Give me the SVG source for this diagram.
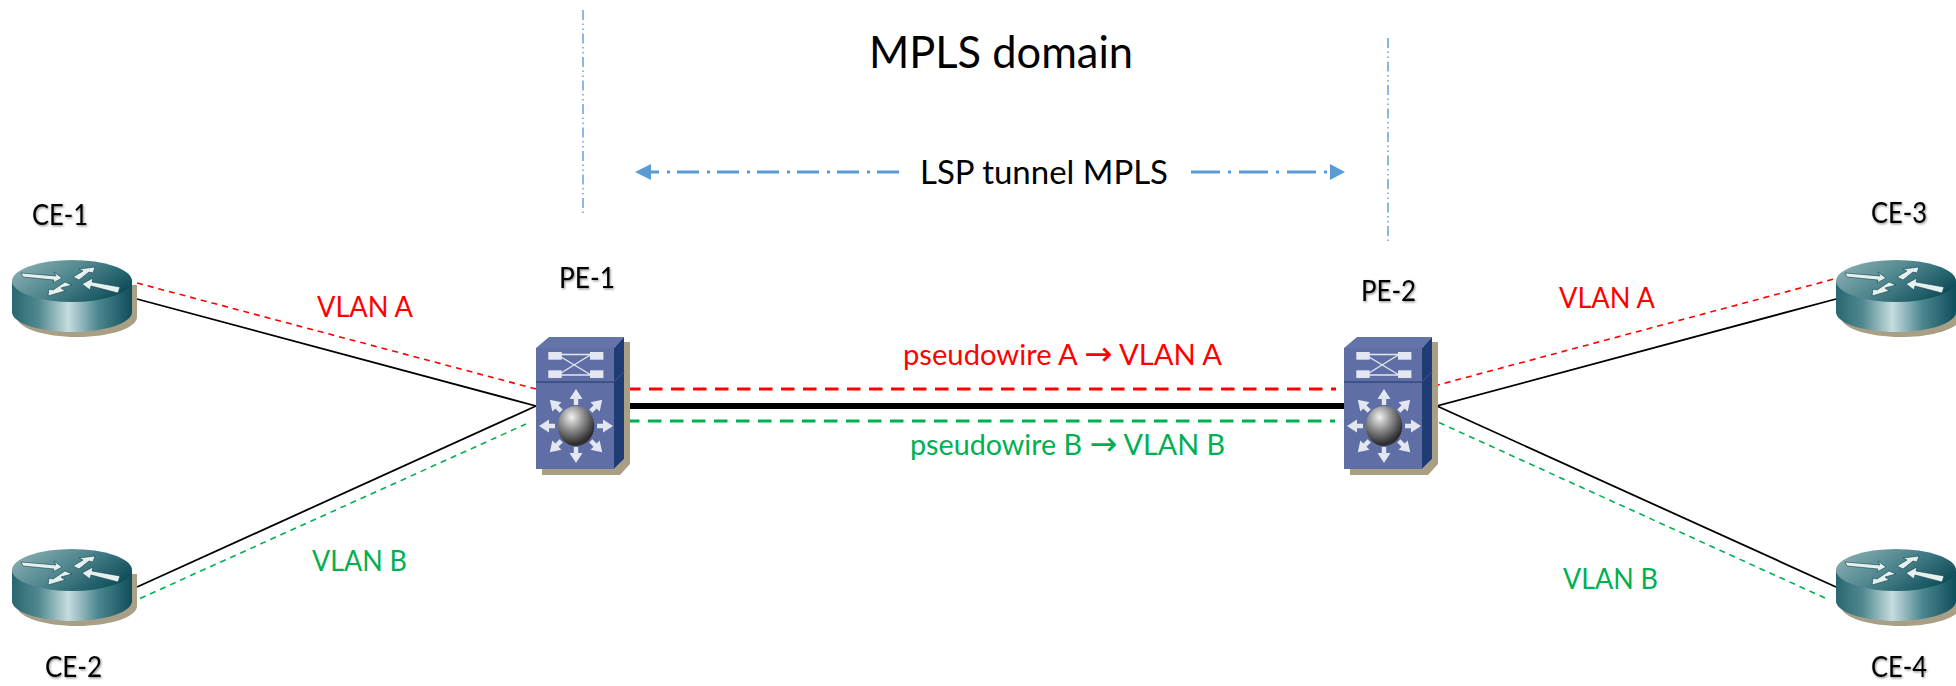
<svg xmlns="http://www.w3.org/2000/svg" xmlns:xlink="http://www.w3.org/1999/xlink" width="1956" height="686" viewBox="0 0 1956 686">
<style>
text{font-family:"Lato","Liberation Sans",sans-serif;}
.k{fill:#000}
.r{fill:#ff0000}
.g{fill:#00b050}
.s{font-size:28.5px}
.n{font-size:28.5px;filter:url(#ts)}
.ar{font-family:"DejaVu Sans",sans-serif;font-size:33px}
.bk{stroke:#000;stroke-width:1.8;fill:none}
.rd{stroke:#ff0000;stroke-width:1.6;stroke-dasharray:6 5;fill:none}
.gd{stroke:#00b050;stroke-width:1.6;stroke-dasharray:6 5;fill:none}
.rt{stroke:#ff0000;stroke-width:3;stroke-dasharray:13.5 8.5;fill:none}
.gt{stroke:#00b050;stroke-width:3;stroke-dasharray:13.5 8.5;fill:none}
.dom{stroke:#5b9bd5;stroke-width:1.4;stroke-dasharray:10 3.5 1.5 3.5 1.5 3.5;fill:none}
.ra{fill:#e6f1ef;stroke:#0c3f48;stroke-width:.6}
.sa{fill:#e3e7f1}
.sl{stroke:#e3e7f1;stroke-width:1.4;fill:none}
</style>
<defs>
<filter id="ts" x="-10%" y="-20%" width="125%" height="150%"><feDropShadow dx="1" dy="1.2" stdDeviation="1" flood-color="#000" flood-opacity=".45"/></filter>
<linearGradient id="rs" x1="0" x2="1" y1="0" y2="0"><stop offset="0" stop-color="#2a6670"/><stop offset=".22" stop-color="#508890"/><stop offset=".47" stop-color="#c6dcdf"/><stop offset=".72" stop-color="#4b868f"/><stop offset="1" stop-color="#0e4e5a"/></linearGradient>
<linearGradient id="rt" x1="0" x2="1" y1=".1" y2=".6"><stop offset="0" stop-color="#8fb2b6"/><stop offset=".5" stop-color="#4f868e"/><stop offset="1" stop-color="#0f4f5b"/></linearGradient>
<radialGradient id="ball" cx=".38" cy=".28" r=".8"><stop offset="0" stop-color="#f2f2f2"/><stop offset=".4" stop-color="#8f8f8f"/><stop offset=".85" stop-color="#2c2c2c"/><stop offset="1" stop-color="#3c3c3c"/></radialGradient>
<g id="router">
<path d="M5 25V57C5 68 32 77 65 77S125 68 125 57V25Z" fill="#a89f85"/>
<path d="M0 21V52C0 63 27 72 60 72S120 63 120 52V21Z" fill="url(#rs)"/>
<ellipse cx="60" cy="21" rx="60" ry="21" fill="url(#rt)"/>
<path class="ra" d="M9 13 L44 16 L42 12 L50 18 L41 23 L42 20 L11 17Z"/>
<path class="ra" d="M61 17 L71 11 L67 9 L83 7 L81 13 L77 12 L67 20Z"/>
<path class="ra" d="M60 25 L49 28 L53 31 L36 36 L37 29 L41 30 L53 22Z"/>
<path class="ra" d="M108 27 L80 22 L81 18 L70 24 L78 30 L79 26 L106 33Z"/>
</g>
<path id="sarrow" class="sa" d="M-2.2 -21H2.2V-27H6.5L0 -37L-6.5 -27H-2.2Z"/>
<g id="switch">
<path d="M88 5H94V127L84 138H6V132H78L88 122Z" fill="#a89f85"/>
<path d="M0 11L13 0H88L78 11Z" fill="#6474a8"/>
<rect x="0" y="11" width="78" height="121" fill="#5f6fa6"/>
<path d="M78 11L88 0V122L78 132Z" fill="#1f3c75"/>
<path d="M0 45H78L88 35" fill="none" stroke="#33497f" stroke-width="1.6"/>
<path class="sl" d="M25 17.5H55M25 38H55M25 36L55 17.5M25 20L55 38"/>
<g class="sa"><rect x="12.3" y="15" width="13.4" height="7.7"/><rect x="54" y="15" width="13.4" height="7.7"/><rect x="12.3" y="33.3" width="13.4" height="7.7"/><rect x="54" y="33.3" width="13.4" height="7.7"/></g>
<g transform="translate(40 89)">
<use xlink:href="#sarrow" href="#sarrow"/>
<use xlink:href="#sarrow" href="#sarrow" transform="rotate(45)"/>
<use xlink:href="#sarrow" href="#sarrow" transform="rotate(90)"/>
<use xlink:href="#sarrow" href="#sarrow" transform="rotate(135)"/>
<use xlink:href="#sarrow" href="#sarrow" transform="rotate(180)"/>
<use xlink:href="#sarrow" href="#sarrow" transform="rotate(225)"/>
<use xlink:href="#sarrow" href="#sarrow" transform="rotate(270)"/>
<use xlink:href="#sarrow" href="#sarrow" transform="rotate(315)"/>
<ellipse rx="18.3" ry="20" fill="url(#ball)"/>
</g>
</g>
</defs>
<rect width="1956" height="686" fill="#fff"/>
<g id="connectors">
<path class="bk" d="M137 299L536 406"/>
<path class="rd" d="M137 283L536 389"/>
<path class="bk" d="M137 587L536 406"/>
<path class="gd" d="M130 603L526 424"/>
<path d="M629 406H1344" stroke="#000" stroke-width="6" fill="none"/>
<path class="rt" d="M627 389H1336"/>
<path class="gt" d="M626 421H1335"/>
<path class="rd" d="M1434 386L1834 279"/>
<path class="bk" d="M1836 299L1437 406L1836 587"/>
<path class="gd" d="M1429 418L1825 598"/>
<path class="dom" d="M583 10V213"/>
<path class="dom" d="M1388 38V242"/>
<g id="lsp-tunnel" fill="#5b9bd5">
<path d="M651 172H899" stroke="#5b9bd5" stroke-width="3" stroke-dasharray="22 8 3 7" stroke-dashoffset="14" fill="none"/>
<path d="M635 172L651 164V180Z"/>
<path d="M1191 172H1330" stroke="#5b9bd5" stroke-width="3" stroke-dasharray="29 8 3 8" fill="none"/>
<path d="M1345 172L1330 164V180Z"/>
</g>
</g>
<g id="CE-1"><use xlink:href="#router" href="#router" x="12" y="260"/><text class="n k" x="32" y="225" textLength="56" lengthAdjust="spacingAndGlyphs">CE-1</text></g>
<g id="CE-2"><use xlink:href="#router" href="#router" x="12" y="549"/><text class="n k" x="45" y="677" textLength="57" lengthAdjust="spacingAndGlyphs">CE-2</text></g>
<g id="CE-3"><use xlink:href="#router" href="#router" x="1836" y="260"/><text class="n k" x="1871" y="223" textLength="56" lengthAdjust="spacingAndGlyphs">CE-3</text></g>
<g id="CE-4"><use xlink:href="#router" href="#router" x="1836" y="549"/><text class="n k" x="1871" y="677" textLength="56" lengthAdjust="spacingAndGlyphs">CE-4</text></g>
<g id="PE-1"><use xlink:href="#switch" href="#switch" x="536" y="337"/><text class="n k" x="559" y="288" textLength="56" lengthAdjust="spacingAndGlyphs">PE-1</text></g>
<g id="PE-2"><use xlink:href="#switch" href="#switch" x="1344" y="337"/><text class="n k" x="1361" y="301" textLength="55" lengthAdjust="spacingAndGlyphs">PE-2</text></g>
<g id="labels">
<text class="k" x="869" y="68" font-size="44" textLength="264" lengthAdjust="spacingAndGlyphs">MPLS domain</text>
<text class="k" x="920" y="184" font-size="33.5" textLength="248" lengthAdjust="spacingAndGlyphs">LSP tunnel MPLS</text>
<text class="s r" x="317" y="317" textLength="96" lengthAdjust="spacingAndGlyphs">VLAN A</text>
<text class="s g" x="312" y="571" textLength="95" lengthAdjust="spacingAndGlyphs">VLAN B</text>
<text class="s r" x="1559" y="308" textLength="96" lengthAdjust="spacingAndGlyphs">VLAN A</text>
<text class="s g" x="1563" y="589" textLength="95" lengthAdjust="spacingAndGlyphs">VLAN B</text>
<text class="s r" x="903" y="365" textLength="319" lengthAdjust="spacingAndGlyphs">pseudowire A <tspan class="ar">→</tspan> VLAN A</text>
<text class="s g" x="910" y="455" textLength="315" lengthAdjust="spacingAndGlyphs">pseudowire B <tspan class="ar">→</tspan> VLAN B</text>
</g>
</svg>
